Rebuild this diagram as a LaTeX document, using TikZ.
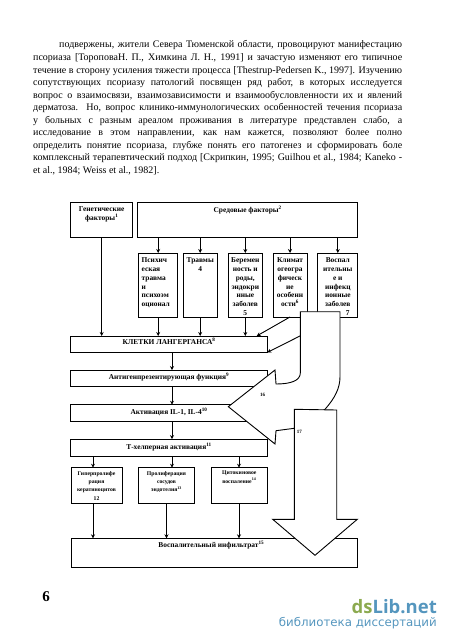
\documentclass[tikz,border=0pt]{standalone}
\usepackage{fontspec}
\setmainfont{Liberation Serif}
\newfontfamily\logofont{Open Sans}
\newfontfamily\subfont{DejaVu Sans}
\usetikzlibrary{positioning,arrows.meta}
\definecolor{logogreen}{RGB}{140,170,80}
\definecolor{logoblue}{RGB}{85,150,190}
\newcommand{\boxtext}[4]{\parbox[c][#2pt][t]{#1pt}{\vspace*{#3pt}\centering #4}}
\tikzset{
 box/.style={draw,line width=.9pt,inner sep=0pt,outer sep=0pt,font=\fontsize{7.4}{8.9}\selectfont\bfseries},
 lowbox/.style={box,font=\fontsize{5.7}{8.4}\selectfont\bfseries},
 link/.style={-{Stealth[length=4pt,width=4pt]},line width=.9pt},
 bigarrow/.style={draw,line width=.9pt,fill=white,line join=miter},
 numlabel/.style={inner sep=0pt,font=\fontsize{5}{6}\selectfont\bfseries},
}
\begin{document}
\begin{tikzpicture}[x=1pt,y=-1pt]
\useasboundingbox (0,0) rectangle (450,644);
% page text
\node[anchor=north west,inner sep=0pt,text width=369pt,align=justify,font=\fontsize{10}{12.55}\selectfont](page) at (33,40.6){\hspace*{26pt}подвержены, жители Севера Тюменской области, провоцируют манифестацию\linebreak
псориаза [ТороповаН. П., Химкина Л. Н., 1991] и зачастую изменяют его типичное\linebreak
течение в сторону усиления тяжести процесса [Thestrup-Pedersen K., 1997]. Изучению\linebreak
сопутствующих псориазу патологий посвящен ряд работ, в которых исследуется\linebreak
вопрос о взаимосвязи, взаимозависимости и взаимообусловленности их и явлений\linebreak
дерматоза. Но, вопрос клинико-иммунологических особенностей течения псориаза\linebreak
у больных с разным ареалом проживания в литературе представлен слабо, а\linebreak
исследование в этом направлении, как нам кажется, позволяют более полно\linebreak
определить понятие псориаза, глубже понять его патогенез и сформировать боле\linebreak
комплексный терапевтический подход [Скрипкин, 1995; Guilhou et al., 1984; Kaneko -\linebreak
et al., 1984; Weiss et al., 1982].\hfill\mbox{}};
% boxes
\node[box](gen) at (101.7,219.5){\boxtext{62}{35}{4.5}{Генетические\\факторы\textsuperscript{1}}};
\node[box](env) at (247.7,219.5){\boxtext{220}{35}{4.5}{Средовые факторы\textsuperscript{2}}};
\node[box](psy) at (158.2,285){\boxtext{39}{64}{4.5}{\raggedright\hspace*{3pt}Психич\\\hspace*{3pt}еская\\\hspace*{3pt}травма\\\hspace*{3pt}и\\\hspace*{3pt}психоэм\\\hspace*{3pt}оционал}};
\node[box](trauma) at (200.2,285){\boxtext{34}{64}{4.5}{Травмы\\4}};
\node[box](preg) at (245.3,285){\boxtext{34}{64}{4.5}{Беремен\\ность и\\роды,\\эндокри\\нные\\заболев\\5}};
\node[box](clim) at (290,285){\boxtext{34}{64}{4.5}{Климат\\огеогра\\фическ\\ие\\особенн\\ости\textsuperscript{6}}};
\node[box](infl) at (337.8,285){\boxtext{40}{64}{4.5}{Воспал\\ительны\\е и\\инфекц\\ионные\\заболев\\\hspace*{20pt}7}};
\node[box](lang) at (169,344.2){\boxtext{196.6}{16.4}{2.5}{КЛЕТКИ ЛАНГЕРГАНСА\textsuperscript{8}}};
\node[box](anti) at (169,378.4){\boxtext{196.6}{16.7}{3}{Антигенпрезентирующая функция\textsuperscript{9}}};
\node[box](act) at (169,413.2){\boxtext{196.6}{17}{3}{Активация IL-1, IL-4\textsuperscript{10}}};
\node[box](thelp) at (169,447.9){\boxtext{196.6}{17.7}{4}{Т-хелперная активация\textsuperscript{11}}};
\node[lowbox](kerat) at (96.5,485.5){\boxtext{51}{35.6}{3.5}{Гиперпролифе\\рация\\кератиноцитов\\12}};
\node[lowbox](endo) at (166.5,485.5){\boxtext{56.4}{35.6}{3.5}{Пролиферация\\сосудов\\эндотелия\textsuperscript{13}}};
\node[lowbox](cyto) at (239.3,485.5){\boxtext{56.7}{35.6}{3.5}{Цитокиновое\\воспаление\textsuperscript{14}}};
\node[box](filt) at (214.3,552.8){\boxtext{286.7}{29}{3}{\hspace*{-6pt}Воспалительный инфильтрат\textsuperscript{15}}};
% helper columns
\coordinate(c1) at (93,0);
\coordinate(c2) at (172,0);
\coordinate(c3) at (239,0);
\coordinate(langin) at (256.7,336);
% links
\draw[link](gen.south)--(gen.south|-lang.north);
\draw[link](env.south-|psy)--(psy.north);
\draw[link](env.south-|trauma)--(trauma.north);
\draw[link](env.south-|preg)--(preg.north);
\draw[link](env.south-|clim)--(clim.north);
\draw[link](env.south-|infl)--(infl.north);
\draw[link](psy.south)--(psy.south|-lang.north);
\draw[link](trauma.south)--(trauma.south|-lang.north);
\draw[link](preg.south)--(preg.south|-lang.north);
\draw[link](clim.south)--(langin);
\draw[link](infl.south)--(lang.south east);
\draw[link](lang.south-|c2)--(anti.north-|c2);
\draw[link](anti.south-|c2)--(act.north-|c2);
\draw[link](act.south-|c2)--(thelp.north-|c2);
\draw[link](thelp.south-|c1)--(kerat.north-|c1);
\draw[link](thelp.south-|c2)--(endo.north-|c2);
\draw[link](thelp.south-|c3)--(cyto.north-|c3);
\draw[link](kerat.south-|c1)--(filt.north-|c1);
\draw[link](endo.south)--(filt.north-|endo.south);
\draw[link](cyto.south-|c3)--(filt.north-|c3);
% big arrows
\draw[bigarrow](340,311.7)--(300.3,311.7)--(300.3,373) .. controls (300.3,381) and (290,384) .. (276,384)--(275,370)--(228.3,406.7)--(275,444)--(276,430.7)--(294.3,428.3)--(325,409.3) .. controls (335,398) and (340,388) .. (340,376.7)--cycle;
\draw[bigarrow](294.3,409.3)--(336.7,410)--(336.7,519.3)--(357.3,519.3)--(315,555.3)--(272.7,519.3)--(294.3,519.3)--cycle;
\node[numlabel](n16) at (262.7,394.7){16};
\node[numlabel](n17) at (299.3,431.7){17};
% page number and logo
\node[inner sep=0pt,font=\fontsize{15}{15}\selectfont\bfseries](pnum) at (46,597){6};
\node[anchor=east,inner sep=0pt,font=\logofont\fontsize{18.5}{19}\selectfont\bfseries](logo) at (437,606.5){\textcolor{logogreen}{ds}\textcolor{logoblue}{Lib.net}};
\node[anchor=east,inner sep=0pt,text=logoblue,font=\subfont\fontsize{11.8}{12}\selectfont](sub) at (437,623){библиотека диссертаций};
\end{tikzpicture}
\end{document}
